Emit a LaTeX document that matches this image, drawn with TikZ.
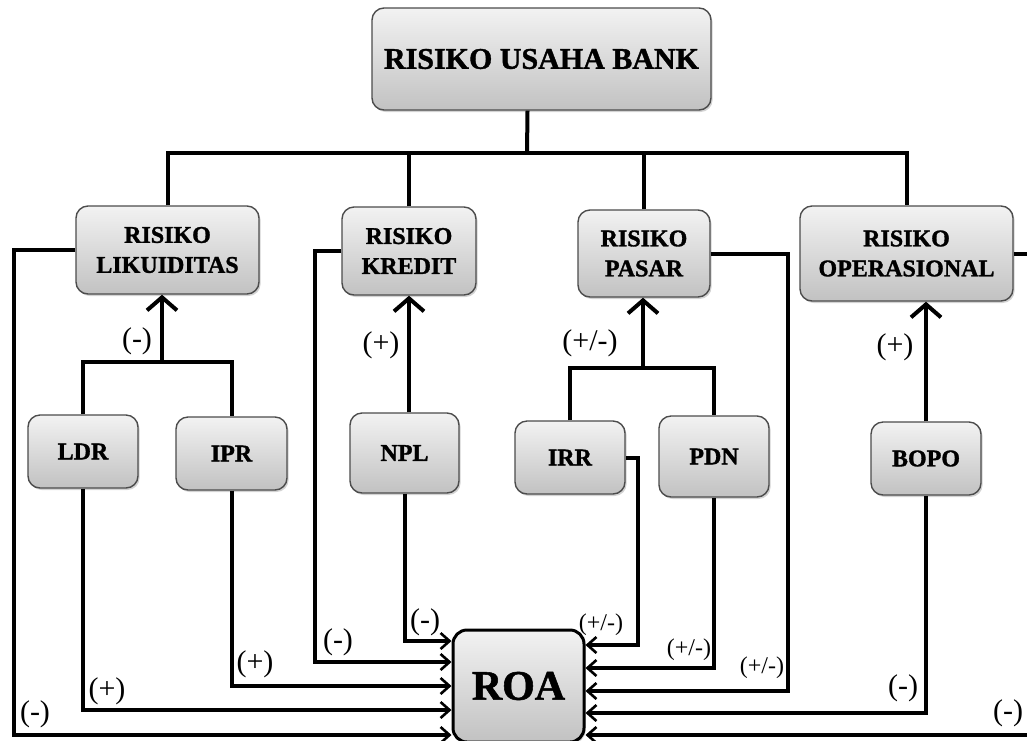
\documentclass[tikz,border=0pt]{standalone}
\usepackage{fontspec}
\setmainfont{Liberation Serif}
\newfontfamily\heavyfont{Liberation Serif Bold}[FakeBold=1.3]
\usetikzlibrary{arrows.meta,shadows}
\newcommand{\sgnpos}{(+)}
\newcommand{\sgnneg}{(-)}
\newcommand{\sgnmix}{(+/-)}

\begin{document}
\begin{tikzpicture}[x=0.5pt,y=-0.5pt,line width=2pt,line cap=butt,
  box/.style={draw=black!70,line width=0.7pt,rounded corners=6pt,
    top color=black!5,bottom color=black!24,
    drop shadow={opacity=0.35,shadow xshift=0.8pt,shadow yshift=-1pt},
    align=center,inner sep=0pt,font=\heavyfont\fontsize{12}{15}\selectfont},
  toparent/.style={-{Straight Barb[length=6.5pt,width=15pt]}},
  toroa/.style={-{Straight Barb[length=4.5pt,width=8pt,line width=1.3pt]}},
  sign/.style={inner sep=0pt,font=\fontsize{15}{16}\selectfont},
  signsm/.style={inner sep=0pt,font=\fontsize{12}{13}\selectfont}]
\useasboundingbox (0,0) rectangle (1027,740);
\clip (0,0) rectangle (1027,740);
% boxes
\node[box,minimum width=169.5pt,minimum height=51pt,font=\heavyfont\fontsize{15}{16}\selectfont] (top) at (541.5,59) {RISIKO USAHA BANK};
\node[box,minimum width=91.5pt,minimum height=44pt] (lik) at (167.5,250) {RISIKO\\LIKUIDITAS};
\node[box,minimum width=67pt,minimum height=44pt] (kre) at (409,251) {RISIKO\\KREDIT};
\node[box,minimum width=66pt,minimum height=43.5pt] (pas) at (644,253.5) {RISIKO\\PASAR};
\node[box,minimum width=106.5pt,minimum height=47.5pt] (ope) at (906.5,253.5) {RISIKO\\OPERASIONAL};
\node[box,minimum width=55pt,minimum height=36.5pt] (ldr) at (83,451.5) {LDR};
\node[box,minimum width=55.5pt,minimum height=36.5pt] (ipr) at (231.5,453.5) {IPR};
\node[box,minimum width=54.5pt,minimum height=40pt] (npl) at (404.5,453) {NPL};
\node[box,minimum width=55pt,minimum height=36.5pt] (irr) at (570,457.5) {IRR};
\node[box,minimum width=55pt,minimum height=40.5pt] (pdn) at (714,456.5) {PDN};
\node[box,minimum width=55pt,minimum height=36.5pt] (bopo) at (926,458.5) {BOPO};
\node[box,draw=black,line width=1.5pt,rounded corners=7pt,minimum width=65.5pt,minimum height=56pt,font=\heavyfont\fontsize{21}{22}\selectfont] (roa) at (518.5,686) {ROA};
% junctions
\coordinate (bus) at (527,153);
\coordinate (likj) at (162,362);
\coordinate (pasj) at (643,368);
\coordinate (fbA) at (14,735);
\coordinate (fbB) at (315,662);
\coordinate (fbC) at (638,645);
\coordinate (fbD) at (788,691);
\coordinate (fbE) at (1032,735);
% tree under the top box
\draw ([xshift=-7pt]top.south) -- (bus);
\draw (lik.north) -- (lik.north |- bus) -- (ope.north |- bus) -- (ope.north);
\draw (kre.north) -- (kre.north |- bus);
\draw (pas.north) -- (pas.north |- bus);
% indicators up to their risk
\draw (ldr.north) |- (likj) -| (ipr.north);
\draw[toparent] (likj) -- (likj |- lik.south);
\draw[toparent] (kre.south |- npl.north) -- (kre.south);
\draw (irr.north) |- (pasj) -| (pdn.north);
\draw[toparent] (pasj) -- (pasj |- pas.south);
\draw[toparent] (bopo.north) -- (bopo.north |- ope.south);
% all of them back to ROA
\draw[toroa] (lik.west) -| (fbA) -- (fbA -| roa.west);
\draw[toroa] (ldr.south) |- (roa.west |- 0,710);
\draw[toroa] (ipr.south) |- (roa.west |- 0,686);
\draw[toroa] (kre.west) -| (fbB) -- (fbB -| roa.west);
\draw[toroa] (npl.south) |- (roa.west |- 0,641);
\draw[toroa] (irr.east) -| (fbC) -- (fbC -| roa.east);
\draw[toroa] (pdn.south) |- (roa.east |- 0,668);
\draw[toroa] (pas.east) -| (fbD) -- (fbD -| roa.east);
\draw[toroa] (bopo.south) |- (roa.east |- 0,713);
\draw[toroa] (ope.east) -| (fbE) -- (fbE -| roa.east);
% signs
\node[sign] (sLik) at (137,341) {\sgnneg};
\node[sign] (sKre) at (381,345) {\sgnpos};
\node[sign] (sPas) at (590,343) {\sgnmix};
\node[sign] (sOpe) at (895,347) {\sgnpos};
\node[sign] (rLik) at (35,714) {\sgnneg};
\node[sign] (rLdr) at (107,691) {\sgnpos};
\node[sign] (rIpr) at (255,664) {\sgnpos};
\node[sign] (rKre) at (338,642) {\sgnneg};
\node[sign] (rNpl) at (425,622) {\sgnneg};
\node[signsm] (rIrr) at (601,625) {\sgnmix};
\node[signsm] (rPdn) at (689,650) {\sgnmix};
\node[signsm] (rPas) at (762,668) {\sgnmix};
\node[sign] (rBopo) at (903,688) {\sgnneg};
\node[sign] (rOpe) at (1008,713) {\sgnneg};
\end{tikzpicture}
\end{document}
